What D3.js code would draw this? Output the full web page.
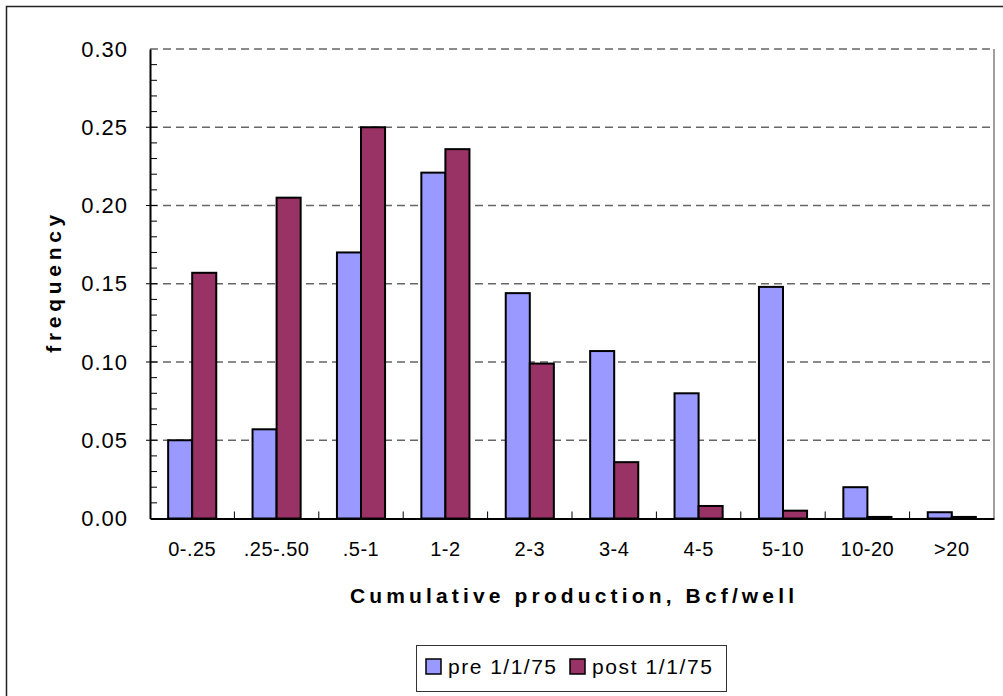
<!DOCTYPE html>
<html>
<head>
<meta charset="utf-8">
<script src="https://cdn.jsdelivr.net/npm/d3@7"></script>
<style>
    body { margin: 0; background: #fff; }
    svg { display: block; font-family: "Liberation Sans", Arial, sans-serif; }
</style>
</head>
<body>
<div id="chart"></div>
<script>
var categories = ["0-.25", ".25-.50", ".5-1", "1-2", "2-3", "3-4", "4-5", "5-10", "10-20", ">20"];
var seriesNames = ["pre 1/1/75", "post 1/1/75"];
var preValues = [0.050, 0.057, 0.170, 0.221, 0.144, 0.107, 0.080, 0.148, 0.020, 0.004];
var postValues = [0.157, 0.205, 0.250, 0.236, 0.099, 0.036, 0.008, 0.005, 0.001, 0.001];
var yTicks = [0, 0.05, 0.10, 0.15, 0.20, 0.25, 0.30];
var colors = ["#9999ff", "#993366"];

var width = 1003, height = 696;
var margin = {left: 150, top: 49, right: 9, bottom: 177};

var svg = d3.select("#chart").append("svg")
    .attr("width", width)
    .attr("height", height);

// outer frame
svg.append("rect")
    .attr("x", 6.5).attr("y", 6.5)
    .attr("width", width + 10).attr("height", height + 10)
    .attr("fill", "none")
    .attr("stroke", "#222")
    .attr("stroke-width", 1.5);

var x0 = d3.scaleBand()
    .domain(categories)
    .range([margin.left, width - margin.right]);

var x1 = d3.scaleBand()
    .domain(seriesNames)
    .range([x0.bandwidth() * 0.215, x0.bandwidth() * 0.785]);

var y = d3.scaleLinear()
    .domain([0, 0.3])
    .range([height - margin.bottom - 0.5, margin.top]);

var plotLeft = margin.left, plotRight = width - margin.right;
var plotTop = margin.top, plotBottom = y(0);

// right border of the plot
svg.append("line")
    .attr("x1", plotRight).attr("x2", plotRight)
    .attr("y1", plotTop).attr("y2", plotBottom)
    .attr("stroke", "#808080")
    .attr("stroke-width", 1.5);

// dashed gridlines
svg.append("g")
    .selectAll("line")
    .data(yTicks.slice(1))
    .enter().append("line")
    .attr("x1", plotLeft).attr("x2", plotRight)
    .attr("y1", function (d) { return y(d); })
    .attr("y2", function (d) { return y(d); })
    .attr("stroke", "#666")
    .attr("stroke-width", 1.5)
    .attr("stroke-dasharray", "8,5");

// bars
var rows = categories.map(function (c, i) {
    return {cat: c, vals: [preValues[i], postValues[i]]};
});

var groups = svg.append("g")
    .selectAll("g")
    .data(rows)
    .enter().append("g")
    .attr("transform", function (d) { return "translate(" + x0(d.cat) + ",0)"; });

groups.selectAll("rect")
    .data(function (d) {
        return d.vals.map(function (v, k) { return {name: seriesNames[k], value: v, k: k}; });
    })
    .enter().append("rect")
    .attr("x", function (d) { return x1(d.name); })
    .attr("y", function (d) { return y(d.value); })
    .attr("width", x1.bandwidth())
    .attr("height", function (d) { return plotBottom - y(d.value); })
    .attr("fill", function (d) { return colors[d.k]; })
    .attr("stroke", "#000")
    .attr("stroke-width", 2);

// y axis with minor ticks
var yAxis = d3.axisLeft(y)
    .tickValues(yTicks)
    .tickFormat(d3.format(".2f"))
    .tickSize(0)
    .tickPadding(22);

var yg = svg.append("g")
    .attr("transform", "translate(" + plotLeft + ",0)")
    .call(yAxis);
yg.select(".domain").attr("stroke", "#000").attr("stroke-width", 2);
yg.selectAll("text")
    .attr("font-size", 22)
    .attr("letter-spacing", 1)
    .attr("fill", "#000")
    .attr("font-family", "Liberation Sans, Arial, sans-serif");

var minor = d3.range(1, 30).map(function (i) { return i / 100; });
svg.append("g")
    .selectAll("line")
    .data(minor)
    .enter().append("line")
    .attr("x1", function (d, i) { return (i + 1) % 5 === 0 ? plotLeft - 4 : plotLeft; })
    .attr("x2", plotLeft + 7)
    .attr("y1", function (d) { return y(d); })
    .attr("y2", function (d) { return y(d); })
    .attr("stroke", "#000")
    .attr("stroke-width", 1);

// x axis
var xAxis = d3.axisBottom(x0)
    .tickSize(0)
    .tickPadding(23);

var xg = svg.append("g")
    .attr("transform", "translate(0," + plotBottom + ")")
    .call(xAxis);
xg.select(".domain").attr("stroke", "#000").attr("stroke-width", 2);
xg.selectAll("text")
    .attr("font-size", 20)
    .attr("letter-spacing", 0.5)
    .attr("fill", "#000")
    .attr("font-family", "Liberation Sans, Arial, sans-serif");

// category separator ticks
svg.append("g")
    .selectAll("line")
    .data(categories.slice(1))
    .enter().append("line")
    .attr("x1", function (d) { return x0(d); })
    .attr("x2", function (d) { return x0(d); })
    .attr("y1", plotBottom)
    .attr("y2", plotBottom - 7)
    .attr("stroke", "#000")
    .attr("stroke-width", 1);

// axis titles
svg.append("text")
    .attr("x", (plotLeft + plotRight) / 2)
    .attr("y", 603)
    .attr("text-anchor", "middle")
    .attr("font-size", 21)
    .attr("font-weight", "bold")
    .attr("textLength", 444)
    .attr("lengthAdjust", "spacing")
    .text("Cumulative production, Bcf/well");

svg.append("text")
    .attr("transform", "translate(61," + ((plotTop + plotBottom) / 2) + ") rotate(-90)")
    .attr("text-anchor", "middle")
    .attr("font-size", 21)
    .attr("font-weight", "bold")
    .attr("textLength", 138)
    .attr("lengthAdjust", "spacing")
    .text("frequency");

// legend
var legend = svg.append("g");
legend.append("rect")
    .attr("x", 416.5).attr("y", 645.5)
    .attr("width", 310).attr("height", 46)
    .attr("fill", "#fff")
    .attr("stroke", "#333")
    .attr("stroke-width", 1);

var legendX = [426, 570];
var legendTextLen = [108, 120];
seriesNames.forEach(function (name, k) {
    legend.append("rect")
        .attr("x", legendX[k]).attr("y", 659)
        .attr("width", 15).attr("height", 15)
        .attr("fill", colors[k])
        .attr("stroke", "#000")
        .attr("stroke-width", 1.5);
    legend.append("text")
        .attr("x", legendX[k] + 22)
        .attr("y", 674)
        .attr("font-size", 21)
        .attr("textLength", legendTextLen[k])
        .attr("lengthAdjust", "spacing")
        .text(name);
});
</script>
</body>
</html>
